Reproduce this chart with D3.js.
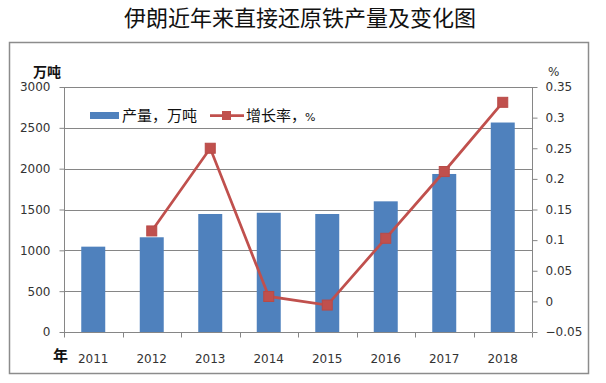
<!DOCTYPE html>
<html><head><meta charset="utf-8">
<script src="https://cdn.jsdelivr.net/npm/d3@7"></script>
<style>body{margin:0;background:#fff}svg{display:block}</style>
</head><body>
<script>
const years = ["2011","2012","2013","2014","2015","2016","2017","2018"];
const output = [1045, 1160, 1445, 1460, 1445, 1600, 1935, 2565];
const growth = [null, 0.115, 0.25, 0.008, -0.006, 0.103, 0.212, 0.325];
const leftTicks = [0,500,1000,1500,2000,2500,3000];
const rightTicks = [-0.05,0,0.05,0.1,0.15,0.2,0.25,0.3,0.35];

const W=606,H=383;
const svg=d3.select("body").append("svg").attr("width",W).attr("height",H);
const cjk='"Noto Sans CJK SC","DejaVu Sans",sans-serif';
const num='"DejaVu Sans",sans-serif';

svg.append("text").attr("x",300).attr("y",26).attr("text-anchor","middle")
 .style("font-family",cjk).style("font-size","22px").attr("fill","#111").text("伊朗近年来直接还原铁产量及变化图");

svg.append("rect").attr("x",9.5).attr("y",42.5).attr("width",579).attr("height",331)
 .attr("fill","none").attr("stroke","#8c8c8c").attr("stroke-width",1.5);

const L=64,R=532,T=87,B=332;
const x=d3.scaleBand().domain(years).range([L,R]).paddingInner(0.59).paddingOuter(0.295);
const yL=d3.scaleLinear().domain([0,3000]).range([B,T]);
const yR=d3.scaleLinear().domain([-0.05,0.35]).range([B,T]);
const grid="#868686";

// gridlines
svg.append("g").selectAll("line").data(leftTicks.slice(1)).join("line")
 .attr("x1",L).attr("x2",R).attr("y1",d=>Math.round(yL(d))+0.5).attr("y2",d=>Math.round(yL(d))+0.5)
 .attr("stroke",grid).attr("stroke-width",1);

// bars
svg.append("g").selectAll("rect").data(output).join("rect")
 .attr("x",(d,i)=>x(years[i])).attr("width",x.bandwidth())
 .attr("y",d=>yL(d)).attr("height",d=>B-yL(d)).attr("fill","#4F81BD");

// left axis
const gl=svg.append("g").attr("transform",`translate(${L+0.5},0)`)
 .call(d3.axisLeft(yL).tickValues(leftTicks).tickFormat(d3.format("d")).tickSize(5).tickPadding(9));
gl.select(".domain").attr("stroke",grid).attr("d",`M0,${T}V${B}`);
gl.selectAll(".tick line").attr("stroke",grid);
gl.selectAll("text").style("font-family",num).style("font-size","12px").attr("fill","#333");

// right axis
const gr=svg.append("g").attr("transform",`translate(${R+0.5},0)`)
 .call(d3.axisRight(yR).tickValues(rightTicks).tickFormat(d=>d3.format("~g")(+d.toFixed(2))).tickSize(5).tickPadding(8));
gr.select(".domain").attr("stroke",grid).attr("d",`M0,${T}V${B}`);
gr.selectAll(".tick line").attr("stroke",grid);
gr.selectAll("text").style("font-family",num).style("font-size","12px").attr("fill","#333");

// bottom axis
const gb=svg.append("g").attr("transform",`translate(0,${B+0.5})`);
gb.append("line").attr("x1",L).attr("x2",R).attr("stroke",grid);
const step=(R-L)/years.length;
gb.selectAll("line.t").data(d3.range(years.length+1)).join("line").attr("class","t")
 .attr("x1",i=>Math.round(L+i*step)+0.5).attr("x2",i=>Math.round(L+i*step)+0.5).attr("y1",0).attr("y2",5).attr("stroke",grid);
gb.selectAll("text").data(years).join("text")
 .attr("x",d=>x(d)+x.bandwidth()/2).attr("y",30).attr("text-anchor","middle")
 .style("font-family",num).style("font-size","12px").attr("fill","#333").text(d=>d);

// line
const pts=growth.map((g,i)=>({g,i})).filter(d=>d.g!==null);
const cx=i=>x(years[i])+x.bandwidth()/2;
svg.append("path").datum(pts).attr("fill","none").attr("stroke","#C0504D").attr("stroke-width",2.75)
 .attr("d",d3.line().x(d=>cx(d.i)).y(d=>yR(d.g)));
svg.append("g").selectAll("rect").data(pts).join("rect")
 .attr("x",d=>cx(d.i)-5).attr("y",d=>yR(d.g)-5).attr("width",10).attr("height",10)
 .attr("fill","#C0504D").attr("stroke","#b84a47");

// axis titles
svg.append("text").attr("x",33).attr("y",77).style("font-family",cjk).style("font-size","14px").style("font-weight","bold").attr("fill","#111").text("万吨");
svg.append("text").attr("x",53).attr("y",361).style("font-family",cjk).style("font-size","15px").style("font-weight","bold").attr("fill","#111").text("年");
svg.append("text").attr("x",548).attr("y",76).style("font-family",num).style("font-size","12px").attr("fill","#333").text("%");

// legend
const lg=svg.append("g");
lg.append("rect").attr("x",90).attr("y",112).attr("width",29).attr("height",7).attr("fill","#4F81BD");
lg.append("text").attr("x",122).attr("y",121).style("font-family",cjk).style("font-size","15px").attr("fill","#111").text("产量，万吨");
lg.append("line").attr("x1",210).attr("x2",244).attr("y1",115.5).attr("y2",115.5).attr("stroke","#C0504D").attr("stroke-width",2.75);
lg.append("rect").attr("x",222).attr("y",111).attr("width",9).attr("height",9).attr("fill","#C0504D");
lg.append("text").attr("x",246).attr("y",121).style("font-family",cjk).style("font-size","15px").attr("fill","#111").text("增长率，");
lg.append("text").attr("x",305).attr("y",121).style("font-family",num).style("font-size","11px").attr("fill","#111").text("%");
</script>
</body></html>
